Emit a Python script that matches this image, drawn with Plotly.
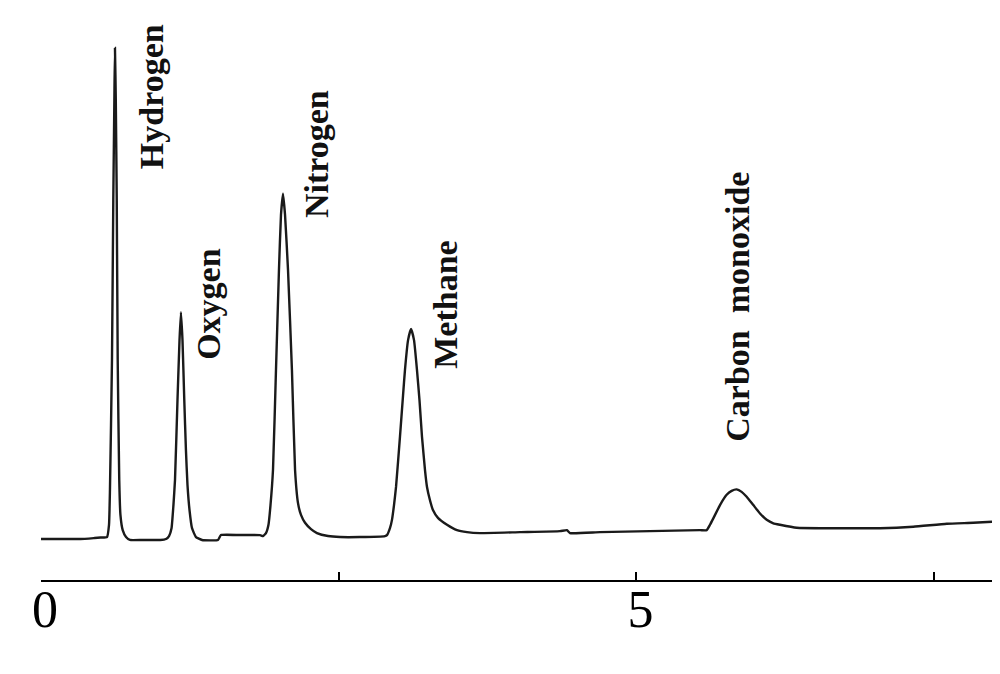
import plotly.graph_objects as go

# --- 層析圖數據 ---
# 保留時間 (min)
retention_time = [
    0.00, 0.33, 0.45, 0.50, 0.554, 0.571, 0.579, 0.596, 0.607, 0.616, 0.621,
    0.628, 0.636, 0.644, 0.657, 0.667, 0.686, 0.714, 0.747, 0.85, 1.00,
    1.050, 1.075, 1.096, 1.112, 1.125, 1.146, 1.163, 1.175, 1.188, 1.203,
    1.217, 1.230, 1.247, 1.268, 1.301, 1.352, 1.486, 1.511, 1.671, 1.839,
    1.864, 1.889, 1.910, 1.927, 1.948, 1.973, 1.998, 2.015, 2.032, 2.049,
    2.074, 2.107, 2.133, 2.158, 2.183, 2.217, 2.267, 2.317, 2.410, 2.511,
    2.678, 2.888, 2.905, 2.930, 2.947, 2.964, 2.981, 3.014, 3.040, 3.056,
    3.082, 3.107, 3.132, 3.157, 3.178, 3.199, 3.224, 3.241, 3.266, 3.291,
    3.333, 3.409, 3.493, 3.577, 3.686, 4.022, 4.358, 4.416, 4.442, 4.694,
    5.113, 5.533, 5.589, 5.617, 5.645, 5.701, 5.757, 5.799, 5.841, 5.883,
    5.925, 5.981, 6.037, 6.093, 6.149, 6.205, 6.345, 6.625, 7.045, 7.324,
    7.605, 7.828, 7.985,
]
# 偵測器訊號 (相對單位)
signal = [
    0.0, 0.0, 0.2, 0.3, 0.4, 2.9, 10.0, 36.5, 69.0, 89.4, 100.0,
    89.4, 69.0, 36.5, 12.0, 4.9, 1.8, 0.4, -0.2, -0.2, -0.2,
    0.0, 0.6, 2.2, 6.9, 12.0, 28.3, 40.5, 46.2, 40.5, 28.3,
    18.1, 11.0, 5.9, 2.2, 0.4, -0.2, -0.2, 0.8, 0.8, 0.8,
    0.6, 1.2, 2.9, 6.9, 14.1, 34.4, 54.8, 66.0, 70.3, 66.0,
    54.8, 34.4, 14.1, 7.3, 4.9, 3.3, 2.0, 1.2, 0.6, 0.4,
    0.4, 0.6, 0.8, 2.2, 3.9, 6.9, 10.6, 20.8, 29.3, 34.4,
    40.5, 42.8, 40.5, 34.4, 28.3, 20.8, 14.1, 10.6, 7.9, 5.9,
    4.3, 2.9, 1.8, 1.4, 1.2, 1.4, 1.6, 1.8, 1.2, 1.4,
    1.6, 1.8, 1.8, 2.9, 4.2, 6.9, 9.0, 9.8, 10.1, 9.6,
    8.6, 6.9, 5.2, 3.9, 3.2, 2.9, 2.3, 2.2, 2.2, 2.5,
    3.1, 3.3, 3.5,
]

# 峰名稱
peak_names = ['Hydrogen', 'Oxygen', 'Nitrogen', 'Methane', 'Carbon  monoxide']
# 標籤位置 (資料座標)
label_x = [0.924, 1.411, 2.309, 3.400, 5.852]
label_y = [90.0, 47.9, 78.4, 47.7, 47.3]

tick_vals = [0, 2.5, 5, 7.5]
tick_text = ['0', '', '5', '']

fig = go.Figure()
fig.add_trace(go.Scatter(
    x=retention_time, y=signal, mode='lines',
    line=dict(color='#1a1a1a', width=2.4, shape='spline', smoothing=0.4),
    hoverinfo='skip', showlegend=False,
))

for name, lx, ly in zip(peak_names, label_x, label_y):
    fig.add_annotation(
        x=lx, y=ly, text=f'<b>{name}</b>', showarrow=False, textangle=-90,
        xanchor='center', yanchor='middle',
        font=dict(family='Liberation Serif', size=34, color='#111111'),
    )

# 頁面 body 有 8px 邊距，所以圖表縮小 16px
fig.update_layout(
    width=984, height=658,
    margin=dict(l=33, r=0, t=12, b=86, pad=0),
    paper_bgcolor='white', plot_bgcolor='white',
    xaxis=dict(
        range=[0, 7.985], showline=True, linecolor='black', linewidth=2,
        ticks='inside', ticklen=8, tickwidth=2, tickcolor='black',
        tickvals=tick_vals, ticktext=tick_text, showgrid=False, zeroline=False,
        ticklabelstandoff=-17, ticklabelshift=4,
        tickfont=dict(family='Liberation Serif', size=52, color='black'),
    ),
    yaxis=dict(range=[-8.35, 105.7], visible=False, showgrid=False, zeroline=False),
)

fig.write_html("out.html")
